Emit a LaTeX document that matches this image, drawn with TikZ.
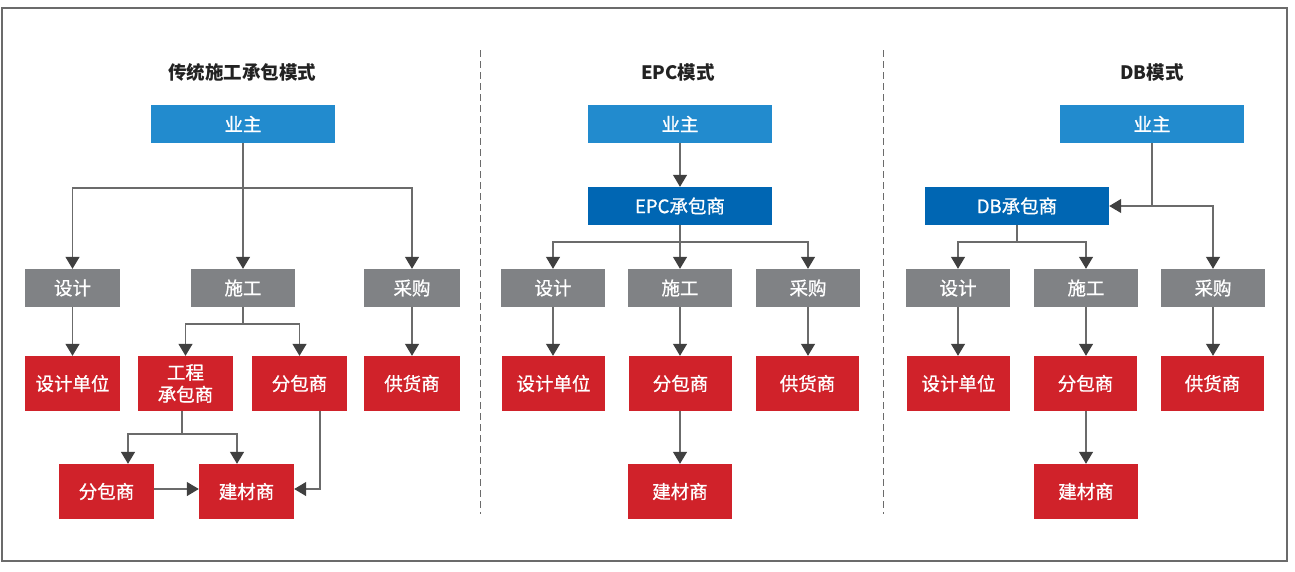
\documentclass[tikz,border=0pt]{standalone}
\usepackage{fontspec}
\setmainfont{Noto Sans CJK SC}
\newfontfamily\boxfont{Noto Sans CJK SC}[FakeBold=0.9]
\usetikzlibrary{arrows.meta}
\definecolor{blueA}{HTML}{228BCE}
\definecolor{blueB}{HTML}{0066B3}
\definecolor{grayA}{HTML}{808285}
\definecolor{redA}{HTML}{D0222A}
\definecolor{lineC}{HTML}{6B6B6B}
\definecolor{arrC}{HTML}{404040}
\definecolor{titleC}{HTML}{222222}
\tikzset{
  bx/.style={inner sep=0pt, text=white, font=\boxfont\fontsize{18.5}{22}\selectfont, align=center},
  owner/.style={bx, fill=blueA, minimum width=184pt, minimum height=38pt},
  contr/.style={bx, fill=blueB, minimum width=184pt, minimum height=38pt},
  grayb/.style={bx, fill=grayA, minimum height=38pt},
  redb/.style={bx, fill=redA, minimum height=55pt},
  ttl/.style={text=titleC, font=\fontsize{18.5}{22}\selectfont\bfseries},
  ln/.style={draw=lineC, line width=1.3pt},
  arr/.style={ln, -{Triangle[width=14pt,length=12pt,color=arrC,fill=arrC]}},
  sep/.style={draw=lineC, line width=1pt, dash pattern=on 7pt off 4pt},
}
\begin{document}
\begin{tikzpicture}[x=1pt,y=-1pt]
\useasboundingbox (0,0) rectangle (1295,571);
\draw[draw=lineC, line width=1.3pt] (2,8) rectangle (1287,561);
\draw[sep] (480,50) -- (480,514);
\draw[sep] (883,50) -- (883,514);

% ---------- left panel
\node[ttl] (t1) at (242,72) {传统施工承包模式};
\node[owner] (o1) at (243,124) {业主};
\node[grayb, minimum width=95pt] (g1a) at (72.5,288) {设计};
\node[grayb, minimum width=104pt] (g1b) at (243,288) {施工};
\node[grayb, minimum width=96pt] (g1c) at (412,288) {采购};
\node[redb, minimum width=95pt] (r1a) at (72.5,383.5) {设计单位};
\node[redb, minimum width=95pt] (r1b) at (185.5,383.5) {工程\\承包商};
\node[redb, minimum width=95pt] (r1c) at (299.5,383.5) {分包商};
\node[redb, minimum width=96pt] (r1d) at (412,383.5) {供货商};
\node[redb, minimum width=95pt] (s1a) at (106.5,491.5) {分包商};
\node[redb, minimum width=95pt] (s1b) at (246.5,491.5) {建材商};

\coordinate (j1) at (243,188);
\coordinate (j2) at (243,324);
\coordinate (j3) at (182,434);
\draw[ln] (o1) -- (j1);
\draw[arr] (j1) -| (g1a);
\draw[arr] (j1) -- (g1b);
\draw[arr] (j1) -| (g1c);
\draw[arr] (g1a) -- (r1a);
\draw[arr] (g1c) -- (r1d);
\draw[ln] (g1b) -- (j2);
\draw[arr] (j2) -| (r1b);
\draw[arr] (j2) -| (r1c);
\draw[ln] ([xshift=-3.5pt]r1b.south) -- (j3);
\draw[arr] (j3) -| ([xshift=21.5pt]s1a.north);
\draw[arr] (j3) -| ([xshift=-9.5pt]s1b.north);
\draw[arr] ([xshift=20.5pt]r1c.south) |- ([yshift=2.5pt]s1b.east);
\draw[arr] ([yshift=2.5pt]s1a.east) -- ([yshift=2.5pt]s1b.west);

% ---------- middle panel
\node[ttl] (t2) at (678,72) {EPC模式};
\node[owner] (o2) at (680,124) {业主};
\node[contr] (e2) at (680,206) {EPC承包商};
\node[grayb, minimum width=104pt] (g2a) at (553,288) {设计};
\node[grayb, minimum width=104pt] (g2b) at (680,288) {施工};
\node[grayb, minimum width=104pt] (g2c) at (808,288) {采购};
\node[redb, minimum width=103pt] (r2a) at (553.5,383.5) {设计单位};
\node[redb, minimum width=103pt] (r2b) at (680.5,383.5) {分包商};
\node[redb, minimum width=103pt] (r2c) at (807.5,383.5) {供货商};
\node[redb, minimum width=104pt] (s2) at (680,491.5) {建材商};

\coordinate (j4) at (680,242);
\draw[arr] (o2) -- (e2);
\draw[ln] (e2) -- (j4);
\draw[arr] (j4) -| (g2a);
\draw[arr] (j4) -- (g2b);
\draw[arr] (j4) -| (g2c);
\draw[arr] (g2a.south) -- (r2a.north -| g2a.south);
\draw[arr] (g2b.south) -- (r2b.north -| g2b.south);
\draw[arr] (g2c.south) -- (r2c.north -| g2c.south);
\draw[arr] (r2b.south -| s2.north) -- (s2);

% ---------- right panel
\node[ttl] (t3) at (1152,72) {DB模式};
\node[owner] (o3) at (1152,124) {业主};
\node[contr] (d3) at (1017,206) {DB承包商};
\node[grayb, minimum width=104pt] (g3a) at (958,288) {设计};
\node[grayb, minimum width=104pt] (g3b) at (1086,288) {施工};
\node[grayb, minimum width=104pt] (g3c) at (1213,288) {采购};
\node[redb, minimum width=103pt] (r3a) at (958.5,383.5) {设计单位};
\node[redb, minimum width=103pt] (r3b) at (1085.5,383.5) {分包商};
\node[redb, minimum width=103pt] (r3c) at (1212.5,383.5) {供货商};
\node[redb, minimum width=104pt] (s3) at (1086,491.5) {建材商};

\coordinate (j5) at (1152,206);
\coordinate (j6) at (1017,242);
\draw[ln] (o3) -- (j5);
\draw[arr] (j5) -- (d3.east);
\draw[arr] (j5) -| (g3c);
\draw[ln] (d3) -- (j6);
\draw[arr] (j6) -| (g3a);
\draw[arr] (j6) -| (g3b);
\draw[arr] (g3a.south) -- (r3a.north -| g3a.south);
\draw[arr] (g3b.south) -- (r3b.north -| g3b.south);
\draw[arr] (g3c.south) -- (r3c.north -| g3c.south);
\draw[arr] (r3b.south -| s3.north) -- (s3);
\end{tikzpicture}
\end{document}
